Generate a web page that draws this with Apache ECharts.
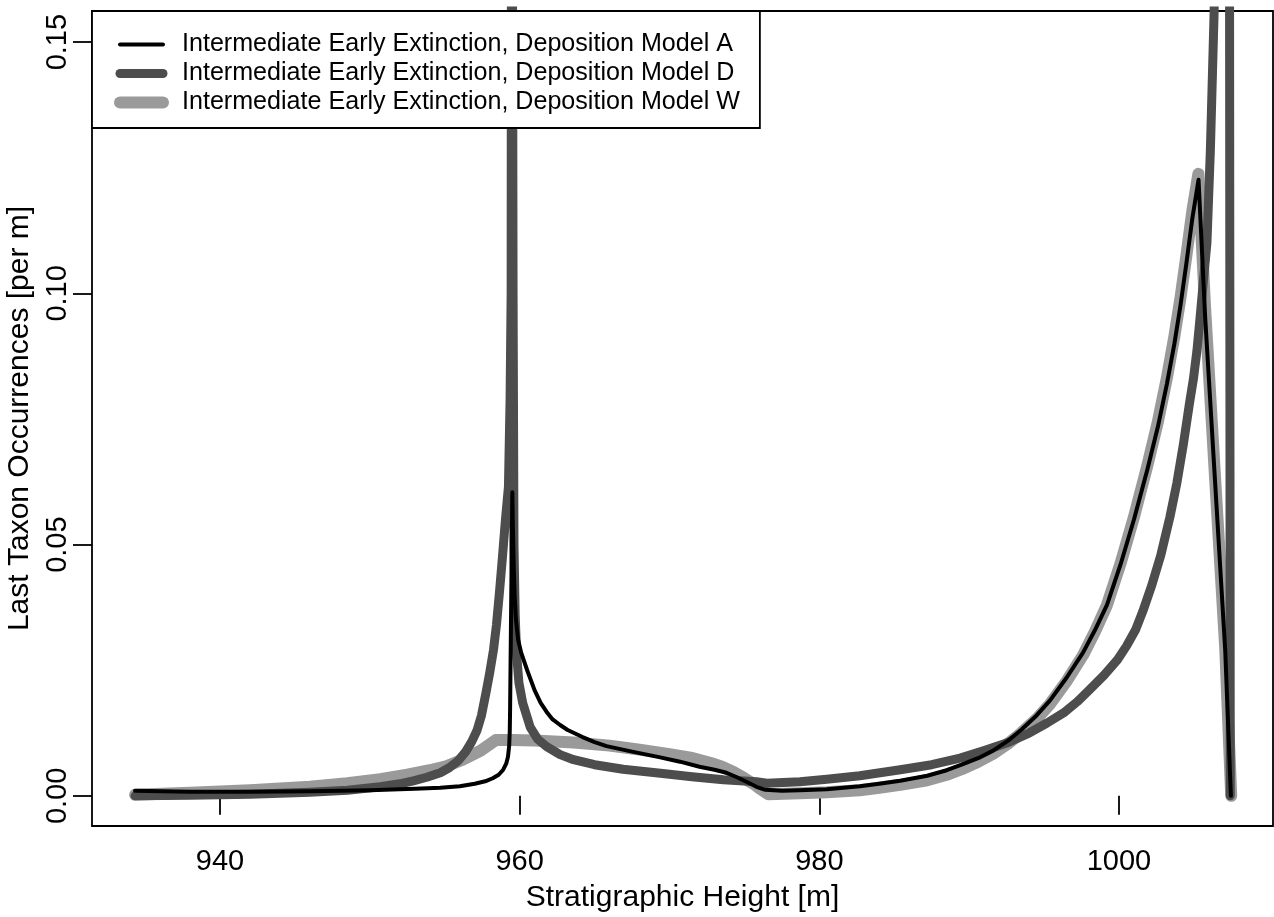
<!DOCTYPE html>
<html>
<head>
<meta charset="utf-8">
<script src="https://cdn.jsdelivr.net/npm/echarts@6/dist/echarts.min.js"></script>
<style>
  html, body { margin: 0; padding: 0; background: #fff; }
  #chart { width: 1274px; height: 917px; }
</style>
</head>
<body>
<div id="chart"></div>
<script>
// tick labels
var xTicks = [940, 960, 980, 1000];
var yTicks = [0, 0.05, 0.10, 0.15];

var nameA = 'Intermediate Early Extinction, Deposition Model A';
var nameD = 'Intermediate Early Extinction, Deposition Model D';
var nameW = 'Intermediate Early Extinction, Deposition Model W';

// Model A (black)
var heightA = [934.33, 938, 942, 946, 950, 953, 954.7, 956.0, 957.0, 957.7, 958.2, 958.6, 958.9, 959.1, 959.22, 959.3, 959.34, 959.36,
  959.51, 959.55, 959.6, 959.66, 959.75, 959.9, 960.1, 960.5, 961.0, 961.4, 961.8, 962.2, 962.7, 963.2, 964.2, 965.0, 965.8,
  967.5, 969.3, 970.7, 972.0, 973.0, 973.8, 974.5, 975.2, 975.8, 976.4,
  977.5, 978.7, 980.5, 982.7, 984.0, 985.4, 987.2, 988.5, 989.5, 990.6, 991.6, 992.6, 993.5, 994.5, 995.4, 996.5, 997.6, 998.4,
  999.2, 1000.1, 1001.0, 1001.9, 1002.6, 1003.2, 1003.7, 1004.1, 1004.5, 1004.9, 1005.31,
  1005.75, 1006.42, 1007.09, 1007.47];
var rateA = [0.0010, 0.0008, 0.0008, 0.0009, 0.0011, 0.0014, 0.0016, 0.0019, 0.0024, 0.0029, 0.0035, 0.0042, 0.0052, 0.0064, 0.0078, 0.0100, 0.0130, 0.0171,
  0.0604, 0.0530, 0.0460, 0.0400, 0.0350, 0.0310, 0.0285, 0.0250, 0.0210, 0.0185, 0.0167, 0.0152, 0.0141, 0.0131, 0.0117, 0.0107, 0.0099,
  0.0088, 0.0077, 0.0068, 0.0058, 0.0052, 0.0046, 0.0037, 0.0027, 0.0018, 0.0012,
  0.0010, 0.0011, 0.0013, 0.0019, 0.0024, 0.0030, 0.0040, 0.0051, 0.0062, 0.0075, 0.0090, 0.0110, 0.0132, 0.0160, 0.0190, 0.0235, 0.0285, 0.0330,
  0.0380, 0.0460, 0.0550, 0.0650, 0.0735, 0.0820, 0.0900, 0.0975, 0.1060, 0.1150, 0.1226,
  0.0954, 0.0622, 0.0290, 0.0];

// Model D (dark grey)
var heightD = [934.33, 938, 942, 946, 948.5, 950.7, 952.0, 952.9, 953.8, 954.7, 955.3, 955.9, 956.4, 956.8, 957.15, 957.45, 957.75,
  958.0, 958.25, 958.45, 958.65, 958.85, 959.05, 959.25, 959.36, 959.43, 959.47, 959.5,
  959.56, 959.62, 959.7, 959.8, 959.95, 960.2, 960.7, 961.2, 961.8, 962.7, 963.6, 965.0, 966.9, 969.4, 971.5, 973.6, 975.8, 976.5,
  978.7, 980.5, 982.7, 985.4, 987.5, 989.4, 991.0, 992.5, 994.0, 995.2, 996.3, 997.2, 998.0, 999.0, 999.9, 1000.5, 1001.1, 1001.6,
  1002.2, 1002.8, 1003.4, 1003.86, 1004.3, 1004.7, 1004.97, 1005.2, 1005.42, 1005.65, 1005.87, 1006.1, 1006.35,
  1006.8, 1007.38, 1007.43];
var rateD = [0.0, 0.0001, 0.0003, 0.0007, 0.0011, 0.0018, 0.0024, 0.0030, 0.0037, 0.0046, 0.0056, 0.0070, 0.0088, 0.0108, 0.0130, 0.0160, 0.0205,
  0.0245, 0.0290, 0.0340, 0.0405, 0.0475, 0.0550, 0.0615, 0.0790, 0.1000, 0.2500, 0.2500,
  0.1000, 0.0500, 0.0360, 0.0280, 0.0225, 0.0185, 0.0137, 0.0113, 0.0098, 0.0082, 0.0072, 0.0062, 0.0053, 0.0045, 0.0038, 0.0032, 0.0028, 0.0025,
  0.0028, 0.0033, 0.0040, 0.0052, 0.0062, 0.0075, 0.0090, 0.0105, 0.0125, 0.0145, 0.0165, 0.0187, 0.0210, 0.0240, 0.0271, 0.0298, 0.0330, 0.0368,
  0.0420, 0.0480, 0.0555, 0.0622, 0.0700, 0.0780, 0.0830, 0.0885, 0.0954, 0.1030, 0.1100, 0.1285, 0.1560,
  0.2500, 0.1600, 0.0];

// Model W (light grey)
var heightW = [934.33, 938, 942, 946, 948.5, 950.7, 952.5, 954.0, 955.1, 956.2, 957.4, 958.4,
  959.5, 961, 963.6, 966, 968, 970, 971.4, 972.7, 973.5, 974.3, 975.0, 975.6, 976.1, 976.6,
  978.7, 980.5, 982.7, 984.0, 985.4, 987.2, 988.5, 989.5, 990.6, 991.6, 992.6, 993.5, 994.5, 995.4, 996.5, 997.6, 998.4,
  999.2, 1000.1, 1001.0, 1001.9, 1002.6, 1003.2, 1003.7, 1004.1, 1004.5, 1004.9, 1005.3,
  1005.75, 1006.42, 1007.09, 1007.49];
var rateW = [0.0002, 0.0006, 0.0011, 0.0018, 0.0025, 0.0033, 0.0042, 0.0051, 0.0059, 0.0072, 0.0090, 0.0111,
  0.0111, 0.0110, 0.0106, 0.0100, 0.0092, 0.0083, 0.0076, 0.0066, 0.0058, 0.0047, 0.0035, 0.0024, 0.0013, 0.0003,
  0.0005, 0.0007, 0.0011, 0.0016, 0.0022, 0.0031, 0.0042, 0.0053, 0.0068, 0.0084, 0.0104, 0.0126, 0.0153, 0.0183, 0.0228, 0.0280, 0.0327,
  0.0380, 0.0462, 0.0555, 0.0658, 0.0745, 0.0832, 0.0915, 0.0990, 0.1075, 0.1165, 0.1238,
  0.0970, 0.0630, 0.0295, 0.0];

function pairs(xs, ys) {
  var out = [];
  for (var i = 0; i < xs.length; i++) {
    out.push([xs[i], ys[i]]);
  }
  return out;
}

function lineSeries(name, xs, ys, color, width, z) {
  return {
    name: name,
    type: 'line',
    data: pairs(xs, ys),
    symbol: 'none',
    showSymbol: false,
    silent: true,
    z: z,
    lineStyle: { color: color, width: width, cap: 'round', join: 'round' },
    itemStyle: { color: color }
  };
}

var font = 'Liberation Sans, Arial, Helvetica, sans-serif';
var chart = echarts.init(document.getElementById('chart'));

var option = {
  animation: false,
  backgroundColor: '#fff',
  grid: {
    left: 92, top: 11, right: 1, bottom: 91,
    show: true, borderColor: '#000', borderWidth: 1.8,
    outerBoundsMode: 'none'
  },
  legend: {
    orient: 'vertical',
    left: 92, top: 11,
    padding: [21, 20, 13, 22],
    data: [nameA, nameD, nameW],
    itemWidth: 43, itemHeight: 20, itemGap: 4,
    backgroundColor: '#fff',
    borderColor: '#000', borderWidth: 1.8, borderRadius: 0,
    itemStyle: { opacity: 0 },
    lineStyle: { width: 'inherit', cap: 'round' },
    textStyle: { fontFamily: font, fontSize: 25.1, color: '#000', padding: [0, 0, 0, 14] },
    selectedMode: false,
    z: 10
  },
  xAxis: {
    type: 'value',
    min: 931.455, max: 1010.28,
    name: 'Stratigraphic Height [m]',
    nameLocation: 'middle', nameGap: 57,
    nameTextStyle: { fontFamily: font, fontSize: 30, color: '#000' },
    axisLine: { show: false },
    axisTick: { show: true, customValues: xTicks, length: 19, inside: false, lineStyle: { color: '#000', width: 1.8 } },
    axisLabel: {
      customValues: xTicks, margin: 21, fontFamily: font, fontSize: 29, color: '#000',
      formatter: function (v) { return String(v); }
    },
    splitLine: { show: false }
  },
  yAxis: {
    type: 'value',
    min: -0.006, max: 0.1562,
    name: 'Last Taxon Occurrences [per m]',
    nameLocation: 'middle', nameGap: 40,
    nameTextStyle: { fontFamily: font, fontSize: 30, color: '#000' },
    axisLine: { show: false },
    axisTick: { show: true, customValues: yTicks, length: 19, inside: false, lineStyle: { color: '#000', width: 1.8 } },
    axisLabel: {
      customValues: yTicks, margin: 20, rotate: 90,
      fontFamily: font, fontSize: 29, color: '#000',
      formatter: function (v) { return v.toFixed(2); }
    },
    splitLine: { show: false }
  },
  series: [
    lineSeries(nameW, heightW, rateW, '#9a9a9a', 12, 2),
    lineSeries(nameD, heightD, rateD, '#4d4d4d', 9, 3),
    lineSeries(nameA, heightA, rateA, '#000000', 4, 4)
  ]
};

chart.setOption(option);
</script>
</body>
</html>
